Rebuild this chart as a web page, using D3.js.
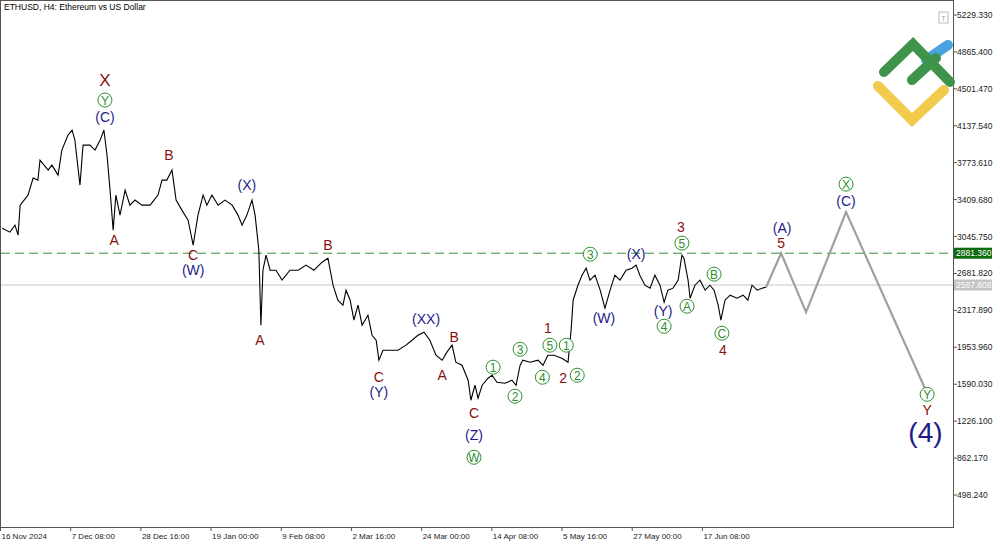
<!DOCTYPE html>
<html>
<head>
<meta charset="utf-8">
<script src="https://cdn.jsdelivr.net/npm/d3@7"></script>
<style>
  body { margin: 0; background: #fff; }
  text { font-family: "Liberation Sans", Arial, sans-serif; }
</style>
</head>
<body>
<svg id="mychart" width="1000" height="545"></svg>
<script>
// price path, days counted from 16 Nov 2024 00:00
const days = [0.5,2.85,4.4,5.34,5.97,8.36,9.92,11.37,12,14.49,15.63,17.5,18.65,20.52,21.77,22.6,24.16,25.09,27.17,28.73,30.29,31.43,32.37,33.3,34.24,35.07,36.32,37.88,39.33,40.89,42.97,45.47,47.86,49.1,50.56,52.12,53.37,55.13,57.01,58.56,60.02,61.58,62.72,64.28,66.15,68.23,70.41,72.18,73.43,74.88,76.44,77.38,78.52,79.15,79.77,80.71,81.95,83.72,85.59,87.98,90.48,92.87,95.26,97.75,99.52,101.08,102.54,104.09,105.03,106.28,107.42,108.67,109.91,111.68,112.93,114.18,115.01,116.26,118.44,120.83,123.22,125.09,126.86,128.73,130.5,132.37,134.24,135.69,137.25,138.4,140.27,142.14,142.97,144.22,145.15,146.4,148.17,149.42,150.87,153.37,155.45,156.69,157.94,158.77,160.96,163.35,164.9,166.37,168.23,170.62,172.5,173.43,174.05,175.51,176.76,178,179.15,180.71,182.27,183.72,185.28,186.74,188.29,190.16,191.93,193.18,194.32,195.88,197.44,198.9,200.45,201.7,202.85,204.41,205.97,207.11,207.73,208.98,209.6,211.06,212.62,214.17,215.63,216.88,218.13,218.96,220.2,221.76,223.84,225.71,227.17,228.42,229.98,231.44,232.68];
const prices = [3128,3089,3158,3060,3355,3454,3622,3602,3799,3701,3750,3651,3898,4046,4095,3997,3553,3947,3947,3898,3997,4095,3849,3503,3109,3454,3257,3503,3355,3405,3355,3355,3454,3602,3602,3701,3405,3306,3207,2961,3257,3454,3355,3454,3355,3405,3355,3257,3158,3257,3405,3257,2912,2172,2714,2862,2714,2714,2616,2714,2714,2764,2714,2793,2833,2566,2418,2369,2517,2418,2221,2369,2172,2270,2073,2024,1827,1925,1925,1925,1975,2024,2073,2103,2024,1876,1827,1906,1975,1807,1777,1630,1432,1580,1452,1580,1649,1679,1610,1600,1630,1580,1777,1827,1807,1827,1777,1876,1876,1846,1807,2123,2418,2566,2665,2734,2616,2665,2517,2340,2517,2665,2616,2714,2734,2764,2665,2566,2537,2665,2566,2398,2517,2537,2616,2862,2833,2616,2438,2566,2616,2517,2566,2517,2369,2221,2418,2468,2438,2468,2418,2566,2517,2537,2546];

// projected path
const projDays = [232.68, 237.26, 244.84, 257.0, 281.65];
const projPrices = [2546, 2881, 2300, 3287, 1501];

const yTicks = [5229.33,4865.4,4501.47,4137.54,3773.61,3409.68,3045.75,2681.82,2317.89,1953.96,1590.03,1226.1,862.17,498.24];
const xTickDates = ["2024-11-16T00:00","2024-12-07T08:00","2024-12-28T16:00","2025-01-19T00:00","2025-02-09T08:00","2025-03-02T16:00","2025-03-24T00:00","2025-04-14T08:00","2025-05-05T16:00","2025-05-27T00:00","2025-06-17T08:00"];
const xTickLabels = ["16 Nov 2024","7 Dec 08:00","28 Dec 16:00","19 Jan 00:00","9 Feb 08:00","2 Mar 16:00","24 Mar 00:00","14 Apr 08:00","5 May 16:00","27 May 00:00","17 Jun 08:00"];

const levelGreen = 2881.36;
const levelGrey = 2567.808;

// wave labels: day, price, text, kind (r=red, b=blue, g=circled green, big)
const labelDays = [31.75,31.75,31.75,51.18,34.55,58.56,58.56,74.88,99.52,78.83,129.35,137.88,134.24,115.01,115.01,143.91,143.91,143.91,149.73,156.38,157.94,164.7,166.99,166.37,171.97,171.04,175.3,179.25,183.41,193.18,206.8,207.11,201.39,201.7,208.67,216.88,219.27,219.59,237.57,237.26,257.0,257.0,281.65,281.65,281.13];
const labelPrices = [4588,4391,4223,3848,3010,2862,2714,3552,2961,2024,2231,2053,1679,1659,1511,1304,1087,870,1758,1472,1935,1659,1975,2142,1975,1649,1679,2872,2241,2872,3138,2981,2310,2162,2359,2675,2093,1930,3129,2981,3562,3395,1491,1334,1117];
const labelTexts = ["X","Y","(C)","B","A","C","(W)","(X)","B","A","(XX)","B","A","C","(Y)","C","(Z)","W","1","2","3","4","5","1","1","2","2","3","(W)","(X)","3","5","(Y)","4","A","B","C","4","(A)","5","X","(C)","Y","Y","(4)"];
const labelKinds = ["rL","g","b","r","r","r","b","b","r","r","b","r","r","r","b","r","b","g","g","g","g","g","g","r","g","r","g","g","b","b","r","g","b","g","g","g","g","r","b","r","g","b","g","r","big"];

const svg = d3.select("#mychart");
const plotRight = 953, plotBottom = 527;
const t0 = new Date("2024-11-16T00:00");
const dayMs = 86400000;
const toDate = (d) => new Date(t0.getTime() + d * dayMs);

const x = d3.scaleTime()
  .domain([t0, toDate(288.9)])
  .range([0.5, 951]);
const y = d3.scaleLinear()
  .domain([498.24, 5229.33])
  .range([495, 15]);

// frame
svg.append("rect").attr("x", 0.5).attr("y", 0.5).attr("width", plotRight).attr("height", plotBottom)
  .attr("fill", "none").attr("stroke", "#555");

// title
svg.append("text").attr("x", 4).attr("y", 10).attr("font-size", 8.5).attr("fill", "#000")
  .text("ETHUSD, H4:  Ethereum vs US Dollar");

// logo
const logo = svg.append("g").attr("fill", "none").attr("stroke-linecap", "round").attr("stroke-width", 10);
logo.append("path").attr("d", "M926,60 L948,45").attr("stroke", "#4aa3df");
logo.append("path").attr("d", "M878,86 L912,120 L944,90").attr("stroke", "#f2cb4c");
logo.append("path").attr("d", "M884,72 L913,44 L950,82").attr("stroke", "#3f944b");
logo.append("path").attr("d", "M912,80 L936,58").attr("stroke", "#3f944b");
svg.append("rect").attr("x", 939).attr("y", 12).attr("width", 9).attr("height", 11)
  .attr("fill", "#fff").attr("stroke", "#bbb");
svg.append("text").attr("x", 943.5).attr("y", 21).attr("font-size", 8).attr("fill", "#aaa")
  .attr("text-anchor", "middle").text("T");

// levels
svg.append("line").attr("x1", 1).attr("x2", plotRight).attr("y1", y(levelGrey)).attr("y2", y(levelGrey))
  .attr("stroke", "#c8c8c8");
svg.append("line").attr("x1", 1).attr("x2", plotRight).attr("y1", y(levelGreen)).attr("y2", y(levelGreen))
  .attr("stroke", "#3a8f3a").attr("stroke-dasharray", "9,5");

// y axis
const yg = svg.append("g");
yTicks.forEach((v) => {
  yg.append("line").attr("x1", plotRight).attr("x2", plotRight + 4).attr("y1", y(v)).attr("y2", y(v)).attr("stroke", "#555");
  yg.append("text").attr("x", 957).attr("y", y(v) + 3).attr("font-size", 8.5).attr("fill", "#222")
    .text(v.toFixed(3));
});
[[levelGreen, "#0b6a0b", "#fff"], [levelGrey, "#c4c4c4", "#fff"]].forEach(([v, bg, fg]) => {
  svg.append("rect").attr("x", 954).attr("y", y(v) - 5.5).attr("width", 38).attr("height", 11).attr("fill", bg);
  svg.append("text").attr("x", 956).attr("y", y(v) + 3).attr("font-size", 8.5).attr("fill", fg).text(v.toFixed(3));
});

// x axis
xTickDates.forEach((d, i) => {
  const px = x(new Date(d));
  svg.append("line").attr("x1", px).attr("x2", px).attr("y1", plotBottom).attr("y2", plotBottom + 4).attr("stroke", "#555");
  svg.append("text").attr("x", px + 1).attr("y", 539).attr("font-size", 8).attr("fill", "#222").text(xTickLabels[i]);
});

// price path
const series = days.map((d, i) => ({ date: toDate(d), value: prices[i] }));
const line = d3.line().x((d) => x(d.date)).y((d) => y(d.value));
svg.append("path").datum(series).attr("d", line)
  .attr("fill", "none").attr("stroke", "#000").attr("stroke-width", 1.1);

const proj = projDays.map((d, i) => ({ date: toDate(d), value: projPrices[i] }));
svg.append("path").datum(proj).attr("d", line)
  .attr("fill", "none").attr("stroke", "#a0a0a0").attr("stroke-width", 2.2);

// wave labels
const lg = svg.append("g");
labelTexts.forEach((t, i) => {
  const px = x(toDate(labelDays[i])), py = y(labelPrices[i]);
  const k = labelKinds[i];
  if (k === "g") {
    lg.append("circle").attr("cx", px).attr("cy", py).attr("r", 7)
      .attr("fill", "#fff").attr("stroke", "#2f8f2f").attr("stroke-width", 1);
    lg.append("text").attr("x", px).attr("y", py + 4.5).attr("text-anchor", "middle")
      .attr("font-size", 12).attr("fill", "#2f8f2f").text(t);
  } else {
    const color = k === "b" || k === "big" ? "#1c1c8a" : "#8b0f0f";
    const size = k === "big" ? 28 : k === "rL" ? 17 : 14;
    lg.append("text").attr("x", px).attr("y", py + size * 0.36).attr("text-anchor", "middle")
      .attr("font-size", size).attr("fill", color).text(t);
  }
});
</script>
</body>
</html>
